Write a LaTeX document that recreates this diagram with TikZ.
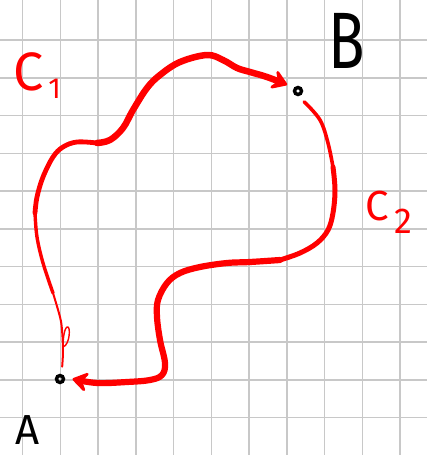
\documentclass[tikz,border=0pt]{standalone}
\usepackage{fontspec}
\setmainfont{Fira Sans}
\usetikzlibrary{arrows.meta}
\definecolor{gridgray}{RGB}{200,200,200}

\begin{document}
\begin{tikzpicture}[x=1pt, y=-1pt,
    gridline/.style={gridgray, line width=1.5pt},
    pen/.style={red, line cap=round, line join=round},
    tip/.style={-{Stealth[length=19pt, width=25pt, inset=8pt, round]}},
    dot/.style={circle, draw=black, line width=3.4pt, minimum size=7pt, inner sep=0pt, outer sep=9pt},
    every node/.style={inner sep=0pt}]
    \useasboundingbox[fill=white] (0,0) rectangle (427,455);
    % squared paper
    \foreach \k in {0,...,10} {
        \draw[gridline] ({22.7+37.75*\k},0) -- ++(0,455);
        \draw[gridline] (0,{40+37.75*\k}) -- ++(427,0);
    }
    % end points
    \node[dot] (A) at (60,379) {};
    \node[dot] (B) at (298,91) {};
    \node[anchor=base] (labA) at (28,444) {\fontsize{42}{42}\selectfont A};
    \node[anchor=base] (labB) at (347,68) {\scalebox{0.75}[1]{\fontsize{80}{80}\selectfont B}};
    % curve C1, from A to B
    \draw[pen, line width=2pt] plot[smooth, tension=0.6] coordinates {(A.80) (63,350) (62,330) (60,317) (53,293)};
    \draw[pen, line width=1.4pt] (63,347) .. controls (70,345) and (71,325) .. (67,327) .. controls (64,329) and (63,340) .. (63,347);
    \draw[pen, line width=3.4pt] plot[smooth, tension=0.6] coordinates {(53,293) (43,263) (37,237) (35,213)};
    \draw[pen, line width=4.8pt] plot[smooth, tension=0.6] coordinates {(35,213) (37,197) (43,177) (53,157) (63,147) (77,142) (97,143)};
    \draw[pen, tip, line width=6.5pt] plot[smooth, tension=0.6] coordinates {(97,143) (110,140) (123,128) (133,110) (147,88) (160,75) (180,62) (207,55) (223,60) (237,68) (250,72) (267,77) (B.150)};
    \node[anchor=base, text=red] (labC1) at (37,90) {\fontsize{54}{54}\selectfont C\hspace{5pt}\raisebox{-8pt}{\fontsize{29}{29}\selectfont 1}};
    % curve C2, from B back to A
    \draw[pen, line width=3.6pt] plot[smooth, tension=0.6] coordinates {(B.-60) (320,120) (328,143) (333,167)};
    \draw[pen, line width=5pt] plot[smooth, tension=0.6] coordinates {(333,167) (335,190) (333,213) (328,230) (317,243) (300,253) (280,260)};
    \draw[pen, tip, line width=6.2pt] plot[smooth, tension=0.6] coordinates {(280,260) (250,262) (227,263) (200,267) (180,273) (167,283) (158,300) (157,317) (160,340) (165,363) (162,375) (150,380) (127,382) (97,383) (A.0)};
    \node[anchor=base, text=red] (labC2) at (389,220) {\fontsize{42}{42}\selectfont C\hspace{5pt}\raisebox{-13pt}{\fontsize{36}{36}\selectfont 2}};
\end{tikzpicture}
\end{document}
